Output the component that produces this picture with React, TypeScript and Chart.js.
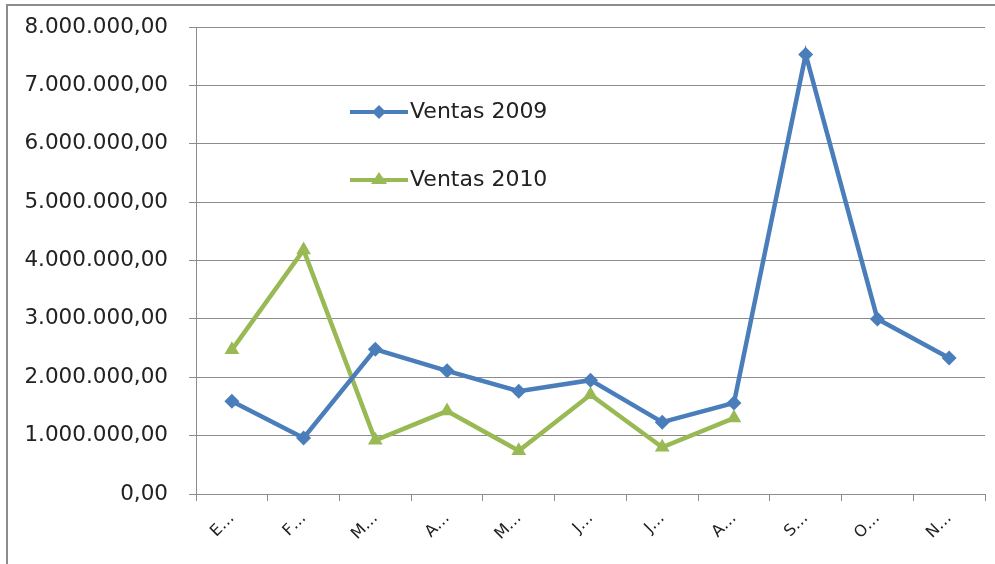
import React, { useEffect, useRef } from "react";
import { Chart, registerables } from "chart.js";

Chart.register(...registerables);

const categories = ["E…", "F…", "M…", "A…", "M…", "J…", "J…", "A…", "S…", "O…", "N…"];
const ventas2009 = [1590000, 960000, 2480000, 2110000, 1760000, 1950000, 1230000, 1560000, 7530000, 3000000, 2330000];
const ventas2010 = [2470000, 4180000, 920000, 1420000, 740000, 1700000, 800000, 1300000, null, null, null];
const seriesNames = ["Ventas 2009", "Ventas 2010"];
const yTicks = [0, 1000000, 2000000, 3000000, 4000000, 5000000, 6000000, 7000000, 8000000];

const BLUE = "#4A7EBB";
const GREEN = "#98B954";
const FONT = "'DejaVu Sans', sans-serif";

function fmt(v: number): string {
  const int = Math.round(v).toString().replace(/\B(?=(\d{3})+(?!\d))/g, ".");
  return int + ",00";
}

function drawMarker(ctx: CanvasRenderingContext2D, style: string, x: number, y: number, r: number, color: string) {
  ctx.fillStyle = color;
  ctx.beginPath();
  if (style === "rectRot") {
    ctx.moveTo(x, y - r);
    ctx.lineTo(x + r, y);
    ctx.lineTo(x, y + r);
    ctx.lineTo(x - r, y);
  } else {
    const h = r * 1.5;
    ctx.moveTo(x, y - h * 0.66);
    ctx.lineTo(x + r, y + h * 0.34);
    ctx.lineTo(x - r, y + h * 0.34);
  }
  ctx.closePath();
  ctx.fill();
}

const framePlugin = {
  id: "frame",
  beforeDraw(chart: any) {
    const ctx = chart.ctx;
    ctx.save();
    ctx.fillStyle = "#ffffff";
    ctx.fillRect(0, 0, chart.width, chart.height);
    ctx.strokeStyle = "#8c8c8c";
    ctx.lineWidth = 2;
    ctx.strokeRect(7, 5, chart.width + 20, chart.height + 20);
    ctx.restore();
  },
};

const legendPlugin = {
  id: "customLegend",
  afterDatasetsDraw(chart: any) {
    const ctx = chart.ctx;
    const items = [
      { label: seriesNames[0], color: BLUE, style: "rectRot", r: 7, y: 112 },
      { label: seriesNames[1], color: GREEN, style: "triangle", r: 8, y: 180 },
    ];
    ctx.save();
    for (const it of items) {
      ctx.strokeStyle = it.color;
      ctx.lineWidth = 4;
      ctx.beginPath();
      ctx.moveTo(350, it.y);
      ctx.lineTo(408, it.y);
      ctx.stroke();
      drawMarker(ctx, it.style, 379, it.y, it.r, it.color);
      ctx.fillStyle = "#222";
      ctx.font = `22px ${FONT}`;
      ctx.textBaseline = "middle";
      ctx.textAlign = "left";
      ctx.fillText(it.label, 410, it.y);
    }
    ctx.restore();
  },
};

export default function App() {
  const ref = useRef<HTMLCanvasElement>(null);

  useEffect(() => {
    document.body.style.margin = "0";
    const chart = new Chart(ref.current as HTMLCanvasElement, {
      type: "line",
      data: {
        labels: categories,
        datasets: [
          {
            label: seriesNames[0],
            data: ventas2009,
            borderColor: BLUE,
            backgroundColor: BLUE,
            borderWidth: 4.5,
            pointStyle: "rectRot",
            pointRadius: 7.5,
            pointBorderWidth: 0,
            tension: 0,
          },
          {
            label: seriesNames[1],
            data: ventas2010,
            borderColor: GREEN,
            backgroundColor: GREEN,
            borderWidth: 4.5,
            pointStyle: "triangle",
            pointRadius: 8.5,
            pointBorderWidth: 0,
            tension: 0,
            spanGaps: false,
          },
        ],
      },
      options: {
        animation: false,
        responsive: false,
        maintainAspectRatio: false,
        layout: { padding: { left: 0, right: 10, top: 27, bottom: 0 } },
        plugins: {
          legend: { display: false },
          tooltip: { enabled: false },
        },
        scales: {
          x: {
            type: "category",
            offset: true,
            grid: {
              display: true,
              drawOnChartArea: false,
              offset: true,
              tickLength: 7,
              color: "#8c8c8c",
            },
            border: { color: "#8c8c8c", width: 1 },
            ticks: {
              maxRotation: 45,
              minRotation: 45,
              autoSkip: false,
              color: "#222",
              padding: 8,
              font: { family: FONT, size: 16 },
            },
            afterFit(scale: any) {
              scale.height = 70;
              scale.paddingLeft = 0;
              scale.paddingRight = 0;
            },
          },
          y: {
            min: 0,
            max: 8000000,
            afterBuildTicks(scale: any) {
              scale.ticks = yTicks.map((v) => ({ value: v }));
            },
            grid: {
              color: "#8c8c8c",
              tickLength: 7,
            },
            border: { color: "#8c8c8c", width: 1 },
            ticks: {
              color: "#222",
              padding: 21,
              font: { family: FONT, size: 21.5 },
              callback: (v: any) => fmt(Number(v)),
            },
            afterFit(scale: any) {
              scale.width = 196;
              scale.paddingTop = 0;
              scale.paddingBottom = 0;
            },
          },
        },
      },
      plugins: [framePlugin, legendPlugin],
    } as any);
    return () => chart.destroy();
  }, []);

  return (
    <div style={{ position: "absolute", left: 0, top: 0, width: 995, height: 564 }}>
      <canvas ref={ref} width={995} height={564} style={{ display: "block" }} />
    </div>
  );
}
